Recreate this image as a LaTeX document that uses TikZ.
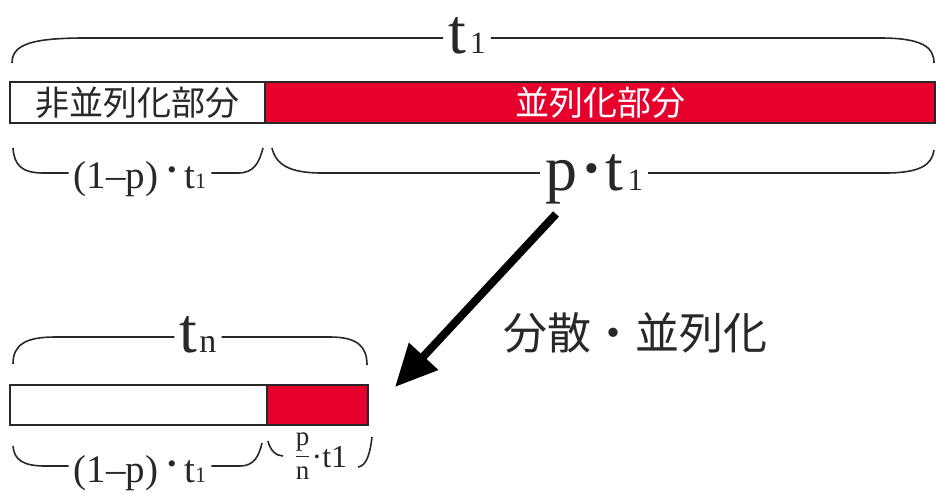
\documentclass[tikz,border=0pt]{standalone}
\usepackage{fontspec}
\setmainfont{Liberation Serif}
\newfontfamily\jp{Noto Sans CJK JP}
\usetikzlibrary{arrows.meta}
\newcommand\fsz[1]{\fontsize{#1}{#1}\selectfont}
\definecolor{barred}{RGB}{232,0,45}
\definecolor{ink}{RGB}{40,40,40}
\begin{document}
\begin{tikzpicture}[x=1pt,y=-1pt,
  brace/.style={line width=1.6pt, draw=ink},
  bar/.style={draw=ink, line width=1.6pt, inner sep=0pt},
  lbl/.style={inner sep=5pt, text=ink},
]
\useasboundingbox (0,0) rectangle (936,493);

% ---------- top bar ----------
\node[bar, fill=white, text=ink, minimum width=255pt, minimum height=41pt] (np) at (137.5,102.5) {\jp\fsz{34}非並列化部分};
\node[bar, fill=barred, text=white, minimum width=670pt, minimum height=41pt] (pp) at (600,102.5) {\jp\fsz{34}並列化部分};

% brace above top bar
\coordinate (L1) at (0,38);
\coordinate (b1s) at (12,63);
\coordinate (b1e) at (934,63);
\node[lbl, anchor=base] (t1) at (467,53) {\fsz{64}t\hspace{4pt}\fsz{31}1};
\draw[brace] (b1s) .. controls (12,45) and (30,38) .. (85,38) -- (t1.west |- L1);
\draw[brace] (t1.east |- L1) -- (880,38) .. controls (922,38) and (934,47) .. (b1e);

% braces below top bar
\coordinate (L2) at (0,173);
\coordinate (b2s) at (13,148);
\coordinate (b2e) at (263,148);
\coordinate (b3s) at (272,148);
\coordinate (b3e) at (934,150);
\node[lbl, anchor=base] (a1) at (140,188) {\fsz{39}(1–p)\hspace{9pt}\raisebox{10pt}{\fsz{26}•}\hspace{8pt}t\fsz{22}1};
\node[lbl, anchor=base] (pt1) at (594,190) {\fsz{64}p\hspace{7pt}\raisebox{8pt}{\fsz{42}•}\hspace{7pt}t\hspace{4pt}\fsz{31}1};
\draw[brace] (b2s) .. controls (14,165) and (22,173) .. (43,173) -- (a1.west |- L2);
\draw[brace] (a1.east |- L2) -- (238,173) .. controls (254,173) and (259,163) .. (b2e);
\draw[brace] (b3s) .. controls (276,165) and (290,173) .. (322,173) -- (pt1.west |- L2);
\draw[brace] (pt1.east |- L2) -- (885,173) .. controls (920,173) and (932,165) .. (b3e);

% ---------- arrow ----------
\coordinate (as) at (556,214);
\coordinate (ae) at (395,387);
\draw[line width=8pt, draw=black, -{Triangle[length=42pt,width=38pt]}] (as) -- (ae);
\node[text=ink, inner sep=0pt] (dist) at (635,333) {\jp\fsz{44}分散・並列化};

% ---------- bottom bar ----------
\node[bar, fill=white, minimum width=257pt, minimum height=40pt] (nb) at (138.5,405) {};
\node[bar, fill=barred, minimum width=101pt, minimum height=40pt] (rb) at (317.5,405) {};

% brace above bottom bar
\coordinate (L4) at (0,337);
\coordinate (b4s) at (13,364);
\coordinate (b4e) at (367,365);
\node[lbl, anchor=base] (tn) at (198,352) {\fsz{64}t\hspace{2pt}\fsz{34}n};
\draw[brace] (b4s) .. controls (13,345) and (25,337) .. (55,337) -- (tn.west |- L4);
\draw[brace] (tn.east |- L4) -- (330,337) .. controls (358,337) and (367,347) .. (b4e);

% braces below bottom bar
\coordinate (L3) at (0,466);
\coordinate (b5s) at (13,446);
\coordinate (b5e) at (262,443);
\coordinate (b6s) at (268,441);
\coordinate (b6m) at (283,456);
\coordinate (b7s) at (358,467);
\coordinate (b7e) at (372,437);
\node[lbl, anchor=base] (a2) at (140,482) {\fsz{39}(1–p)\hspace{9pt}\raisebox{10pt}{\fsz{26}•}\hspace{8pt}t\fsz{22}1};
\node[lbl, anchor=base, inner sep=1pt] (fr) at (321,467) {\raisebox{5pt}{\fsz{27}$\displaystyle\frac{\mbox{p}}{\mbox{n}}$}\hspace{1pt}\fsz{32}·t1};
\draw[brace] (b5s) .. controls (14,459) and (22,466) .. (45,466) -- (a2.west |- L3);
\draw[brace] (a2.east |- L3) -- (240,466) .. controls (254,466) and (259,456) .. (b5e);
\draw[brace] (b6s) .. controls (270,450) and (276,456) .. (b6m);
\draw[brace] (b7s) .. controls (366,466) and (370,455) .. (b7e);
\end{tikzpicture}
\end{document}
